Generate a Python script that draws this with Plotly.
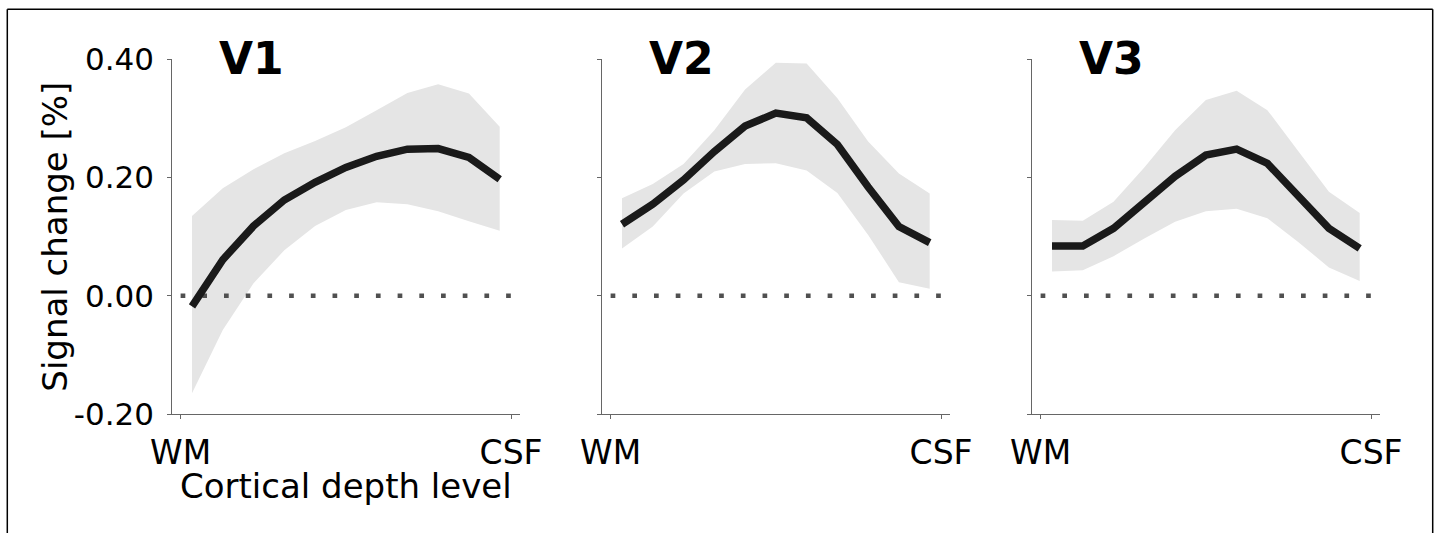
import plotly.graph_objects as go

# ---------------- data ----------------
levels = list(range(11))  # cortical depth levels (WM -> CSF)
panel_names = ["V1", "V2", "V3"]

v1_mean = [-0.018, 0.061, 0.118, 0.162, 0.192, 0.217, 0.236, 0.248, 0.249, 0.234, 0.197]
v1_upper = [0.135, 0.182, 0.214, 0.241, 0.262, 0.285, 0.314, 0.343, 0.358, 0.342, 0.286]
v1_lower = [-0.165, -0.058, 0.021, 0.077, 0.118, 0.145, 0.158, 0.155, 0.143, 0.126, 0.110]

v2_mean = [0.121, 0.155, 0.196, 0.244, 0.287, 0.309, 0.301, 0.256, 0.184, 0.117, 0.090]
v2_upper = [0.165, 0.189, 0.223, 0.280, 0.349, 0.394, 0.393, 0.334, 0.261, 0.207, 0.173]
v2_lower = [0.080, 0.117, 0.173, 0.210, 0.223, 0.224, 0.212, 0.174, 0.103, 0.023, 0.012]

v3_mean = [0.084, 0.084, 0.114, 0.159, 0.202, 0.238, 0.248, 0.224, 0.170, 0.114, 0.080]
v3_upper = [0.128, 0.127, 0.159, 0.217, 0.280, 0.331, 0.347, 0.314, 0.245, 0.176, 0.140]
v3_lower = [0.041, 0.043, 0.067, 0.097, 0.125, 0.143, 0.147, 0.131, 0.091, 0.048, 0.025]

means = [v1_mean, v2_mean, v3_mean]
uppers = [v1_upper, v2_upper, v3_upper]
lowers = [v1_lower, v2_lower, v3_lower]

x_tick_vals = [-0.37, 10.37]
x_tick_text = ["WM", "CSF"]
y_tick_vals = [-0.2, 0.0, 0.2, 0.4]
y_tick_text = ["-0.20", "0.00", "0.20", "0.40"]
zero_x = [-0.37, 10.37]
zero_y = [0.0, 0.0]

# ---------------- layout geometry ----------------
W, H = 1436, 533
x_doms_px = [(171.7, 520.0), (601.7, 950.0), (1031.7, 1380.0)]
y_top_px, y_bot_px = 59.3, 414.0
y_dom = [1 - y_bot_px / H, 1 - y_top_px / H]

FONT = "DejaVu Sans"
fig = go.Figure()

for k in range(3):
    xa = "x" if k == 0 else f"x{k+1}"
    ya = "y" if k == 0 else f"y{k+1}"
    # shaded band
    fig.add_trace(go.Scatter(
        x=levels + levels[::-1],
        y=uppers[k] + lowers[k][::-1],
        fill="toself", fillcolor="#e5e5e5",
        line=dict(width=0, color="#e5e5e5"),
        mode="lines", hoverinfo="skip", showlegend=False,
        xaxis=xa, yaxis=ya))
    # dotted zero line
    fig.add_trace(go.Scatter(
        x=zero_x, y=zero_y, mode="lines",
        line=dict(color="#505050", width=4.7, dash="4.7px,17px"),
        hoverinfo="skip", showlegend=False, xaxis=xa, yaxis=ya))
    # mean line
    fig.add_trace(go.Scatter(
        x=levels, y=means[k], mode="lines",
        line=dict(color="#1a1a1a", width=7.5),
        showlegend=False, xaxis=xa, yaxis=ya))

    xd = [x_doms_px[k][0] / W, x_doms_px[k][1] / W]
    xkey = "xaxis" if k == 0 else f"xaxis{k+1}"
    ykey = "yaxis" if k == 0 else f"yaxis{k+1}"
    fig.update_layout(**{
        xkey: dict(domain=xd, range=[-0.66, 10.66], anchor=ya,
                   automargin=False,
                   showgrid=False, zeroline=False, showline=True,
                   linecolor="#666666", linewidth=1,
                   ticks="outside", ticklen=3.5, tickwidth=1, tickcolor="#666666",
                   tickvals=x_tick_vals, ticktext=x_tick_text,
                   tickfont=dict(family=FONT, size=33, color="black"),
                   ticklabelstandoff=6),
        ykey: dict(domain=y_dom, range=[-0.2, 0.4], anchor=xa,
                   automargin=False,
                   showgrid=False, zeroline=False, showline=True,
                   linecolor="#666666", linewidth=1,
                   ticks="outside", ticklen=3.5, tickwidth=1, tickcolor="#666666",
                   tickvals=y_tick_vals, ticktext=y_tick_text,
                   showticklabels=(k == 0),
                   tickfont=dict(family=FONT, size=31, color="black"),
                   ticklabelstandoff=7),
    })

annotations = []
title_left_px = [217.0, 647.0, 1077.0]
for k in range(3):
    annotations.append(dict(
        text=f"<b>{panel_names[k]}</b>", xref="paper", yref="paper",
        x=title_left_px[k] / W, y=1 - 58.5 / H, xanchor="left", yanchor="middle",
        showarrow=False, font=dict(family=FONT, size=44, color="black")))
annotations.append(dict(
    text="Signal change [%]", xref="paper", yref="paper",
    x=55 / W, y=1 - 236.7 / H, xanchor="center", yanchor="middle",
    textangle=-90, showarrow=False, font=dict(family=FONT, size=34, color="black")))
annotations.append(dict(
    text="Cortical depth level", xref="paper", yref="paper",
    x=346 / W, y=1 - 485.8 / H, xanchor="center", yanchor="middle",
    showarrow=False, font=dict(family=FONT, size=34, color="black")))

# outer frame (top, left, right)
shapes = [
    dict(type="line", xref="paper", yref="paper", x0=7.3 / W, x1=1432.7 / W,
         y0=1 - 9.3 / H, y1=1 - 9.3 / H, line=dict(color="black", width=1.5)),
    dict(type="line", xref="paper", yref="paper", x0=7.3 / W, x1=7.3 / W,
         y0=1 - 9.3 / H, y1=-0.2, line=dict(color="black", width=1.5)),
    dict(type="line", xref="paper", yref="paper", x0=1432.7 / W, x1=1432.7 / W,
         y0=1 - 9.3 / H, y1=-0.2, line=dict(color="black", width=1.5)),
]

fig.update_layout(
    width=W, height=H,
    margin=dict(l=0, r=0, t=0, b=0, pad=0, autoexpand=False),
    paper_bgcolor="white", plot_bgcolor="white",
    annotations=annotations, shapes=shapes, showlegend=False,
    font=dict(family=FONT),
)

fig.write_html("out.html")
